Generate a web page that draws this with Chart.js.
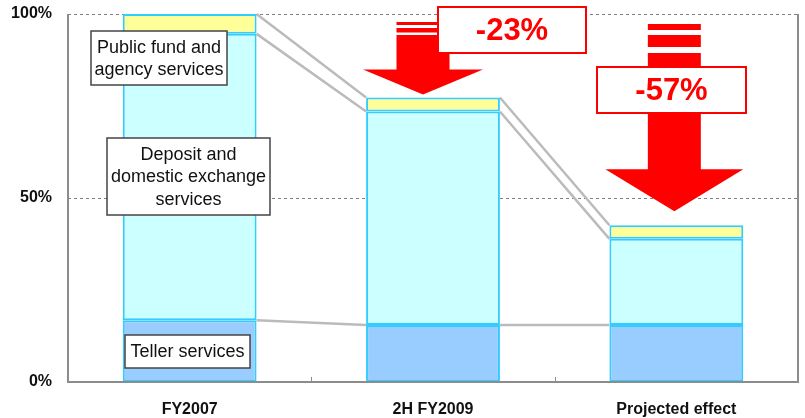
<!DOCTYPE html>
<html>
<head>
<meta charset="utf-8">
<script src="https://cdn.jsdelivr.net/npm/chart.js@4.4.1/dist/chart.umd.min.js"></script>
<style>
  html, body { margin: 0; padding: 0; background: #fff; }
  #wrap { width: 805px; height: 418px; }
</style>
</head>
<body>
<div id="wrap"><canvas id="chartCost" width="805" height="418"></canvas></div>
<script>
const categories = ["FY2007", "2H FY2009", "Projected effect"];
const tellerServices = [16.8, 15.5, 15.5];
const depositExchange = [77.8, 58.0, 23.4];
const publicFund = [5.4, 3.8, 3.7];
const yTicks = [0, 50, 100];

const FONT = "'Liberation Sans', Arial, sans-serif";

// boxes naming each layer, drawn over the first bar
const layerNotes = [
  { lines: ["Public fund and", "agency services"], x: 91, y: 31, w: 136, h: 54 },
  { lines: ["Deposit and", "domestic exchange", "services"], x: 107, y: 138, w: 163, h: 77 },
  { lines: ["Teller services"], x: 125, y: 335, w: 125, h: 33 },
];

// red arrows showing the drop against FY2007
const arrows = [
  { bar: 1, dx: -10, half: 26.5, headHalf: 60, headLen: 25, gap: 3,
    stripes: [[22, 25], [28, 32.5]], solidFrom: 35,
    box: { x: 438, y: 7, w: 148, h: 46 } },
  { bar: 2, dx: -2, half: 26.5, headHalf: 69, headLen: 42, gap: 14,
    stripes: [[24, 30], [35, 47]], solidFrom: 53,
    box: { x: 597, y: 67, w: 149, h: 46 } },
];

function totalAt(i) {
  return tellerServices[i] + depositExchange[i] + publicFund[i];
}

const costPlugin = {
  id: "costPlugin",
  beforeDatasetsDraw(chart) {
    const { ctx, chartArea: a, scales: { y } } = chart;
    ctx.save();

    // dashed gridlines
    ctx.strokeStyle = "#808080";
    ctx.lineWidth = 1;
    ctx.setLineDash([3, 3]);
    yTicks.forEach((v) => {
      if (v === 0) return;
      const py = Math.round(y.getPixelForValue(v)) + 0.5;
      ctx.beginPath();
      ctx.moveTo(a.left, py);
      ctx.lineTo(a.right, py);
      ctx.stroke();
    });
    ctx.setLineDash([]);

    // grey lines joining the layer tops from bar to bar
    const metas = [0, 1, 2].map((d) => chart.getDatasetMeta(d));
    ctx.strokeStyle = "#bbbbbb";
    ctx.lineWidth = 2.5;
    for (let i = 0; i < categories.length - 1; i++) {
      let c0 = 0, c1 = 0;
      const series = [tellerServices, depositExchange, publicFund];
      series.forEach((s, d) => {
        c0 += s[i];
        c1 += s[i + 1];
        const b0 = metas[d].data[i];
        const b1 = metas[d].data[i + 1];
        ctx.beginPath();
        ctx.moveTo(b0.x + b0.width / 2, y.getPixelForValue(c0));
        ctx.lineTo(b1.x - b1.width / 2, y.getPixelForValue(c1));
        ctx.stroke();
      });
    }
    ctx.restore();
  },
  afterDatasetsDraw(chart) {
    const { ctx, chartArea: a, scales: { x, y } } = chart;
    ctx.save();

    // axis frame
    ctx.strokeStyle = "#8c8c8c";
    ctx.lineWidth = 2;
    ctx.beginPath();
    ctx.moveTo(a.left, a.top);
    ctx.lineTo(a.left, a.bottom);
    ctx.lineTo(a.right, a.bottom);
    ctx.lineTo(a.right, a.top);
    ctx.stroke();

    // small ticks between categories
    ctx.lineWidth = 1;
    for (let i = 0; i < categories.length - 1; i++) {
      const px = Math.round((x.getPixelForValue(i) + x.getPixelForValue(i + 1)) / 2) + 0.5;
      ctx.beginPath();
      ctx.moveTo(px, a.bottom);
      ctx.lineTo(px, a.bottom - 5);
      ctx.stroke();
    }

    // arrows
    const base = totalAt(0);
    arrows.forEach((ar) => {
      const cx = x.getPixelForValue(ar.bar) + ar.dx;
      const apex = y.getPixelForValue(totalAt(ar.bar)) - ar.gap;
      const headTop = apex - ar.headLen;
      ctx.fillStyle = "#ff0000";
      ar.stripes.forEach(([t, b]) => {
        ctx.fillRect(cx - ar.half, t, ar.half * 2, b - t);
      });
      ctx.fillRect(cx - ar.half, ar.solidFrom, ar.half * 2, headTop - ar.solidFrom + 1);
      ctx.beginPath();
      ctx.moveTo(cx - ar.headHalf, headTop);
      ctx.lineTo(cx + ar.headHalf, headTop);
      ctx.lineTo(cx, apex);
      ctx.closePath();
      ctx.fill();

      const bx = ar.box;
      ctx.fillStyle = "#ffffff";
      ctx.fillRect(bx.x, bx.y, bx.w, bx.h);
      ctx.strokeStyle = "#ff0000";
      ctx.lineWidth = 2;
      ctx.strokeRect(bx.x, bx.y, bx.w, bx.h);

      const pct = Math.round((totalAt(ar.bar) / base - 1) * 100);
      ctx.fillStyle = "#ff0000";
      ctx.font = "bold 31px " + FONT;
      ctx.textAlign = "center";
      ctx.textBaseline = "middle";
      ctx.fillText(pct + "%", bx.x + bx.w / 2, bx.y + bx.h / 2 + 1);
    });

    // layer name boxes
    ctx.font = "18px " + FONT;
    ctx.textAlign = "center";
    ctx.textBaseline = "middle";
    layerNotes.forEach((n) => {
      ctx.fillStyle = "#ffffff";
      ctx.fillRect(n.x, n.y, n.w, n.h);
      ctx.strokeStyle = "#444444";
      ctx.lineWidth = 1.5;
      ctx.strokeRect(n.x, n.y, n.w, n.h);
      ctx.fillStyle = "#111111";
      const lh = 22.5;
      const y0 = n.y + n.h / 2 - ((n.lines.length - 1) * lh) / 2;
      n.lines.forEach((t, k) => ctx.fillText(t, n.x + n.w / 2, y0 + k * lh + 1));
    });

    ctx.restore();
  },
};

const barStyle = { borderColor: "#33ccff", borderWidth: 2, borderSkipped: false };

new Chart(document.getElementById("chartCost"), {
  type: "bar",
  data: {
    labels: categories,
    datasets: [
      { label: "Teller services", data: tellerServices, backgroundColor: "#99ccff", ...barStyle },
      { label: "Deposit and domestic exchange services", data: depositExchange, backgroundColor: "#ccffff", ...barStyle },
      { label: "Public fund and agency services", data: publicFund, backgroundColor: "#ffff99", ...barStyle },
    ],
  },
  options: {
    responsive: false,
    animation: false,
    layout: { padding: { left: 0, right: 7, top: 14, bottom: 0 } },
    datasets: { bar: { categoryPercentage: 1, barPercentage: 0.55 } },
    plugins: { legend: { display: false }, tooltip: { enabled: false } },
    scales: {
      x: {
        stacked: true,
        grid: { display: false },
        border: { display: false },
        ticks: { padding: 10, color: "#111", font: { family: FONT, size: 16, weight: "bold" } },
        afterFit(s) { s.height = 36; s.paddingLeft = 0; s.paddingRight = 0; },
      },
      y: {
        stacked: true,
        min: 0,
        max: 100,
        afterBuildTicks(s) { s.ticks = yTicks.map((v) => ({ value: v })); },
        grid: { display: false },
        border: { display: false },
        ticks: {
          padding: 8,
          color: "#111",
          font: { family: FONT, size: 16, weight: "bold" },
          callback: (v) => v + "%",
        },
        afterFit(s) { s.width = 68; s.paddingTop = 0; s.paddingBottom = 0; },
      },
    },
  },
  plugins: [costPlugin],
});
</script>
</body>
</html>
